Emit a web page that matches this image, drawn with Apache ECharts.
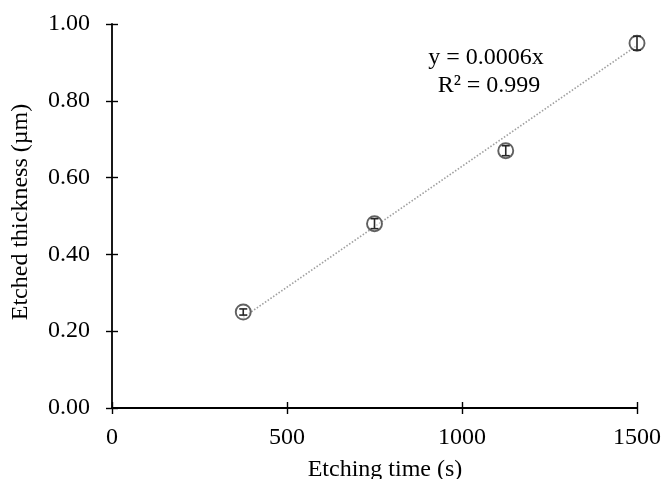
<!DOCTYPE html>
<html>
<head>
<meta charset="utf-8">
<script src="https://cdn.jsdelivr.net/npm/echarts@6/dist/echarts.min.js"></script>
<style>
html,body{margin:0;padding:0;background:#fff;}
#chart{width:664px;height:479px;}
</style>
</head>
<body>
<div id="chart"></div>
<script>
// Data
const etchingTime = [375, 750, 1125, 1500];
const etchedThickness = [0.25, 0.48, 0.67, 0.95];
const thicknessError = [0.008, 0.013, 0.013, 0.018];
const trendX = [375, 1500];
const trendY = [0.236, 0.944];
const xTicks = [0, 500, 1000, 1500];
const yTicks = [0, 0.2, 0.4, 0.6, 0.8, 1.0];
const equationText = 'y = 0.0006x';
const r2Text = 'R² = 0.999';
const xTitle = 'Etching time (s)';
const yTitle = 'Etched thickness (µm)';

const FONT = '"Liberation Serif", "Times New Roman", serif';
const FS = 24;
const points = etchingTime.map((t, i) => [t, etchedThickness[i]]);
const errData = etchingTime.map((t, i) => [t, etchedThickness[i], thicknessError[i]]);
const trendData = trendX.map((x, i) => [x, trendY[i]]);

const chart = echarts.init(document.getElementById('chart'));
const axisLbl = {fontFamily: FONT, fontSize: FS, color: '#000'};
const tickStyle = {color: '#000', width: 1.4};
chart.setOption({
  animation: false,
  grid: {left: 112, right: 23, top: 24, bottom: 71},
  xAxis: [{
    type: 'value', min: xTicks[0], max: xTicks[xTicks.length - 1], interval: 500,
    axisLine: {show: true, lineStyle: {color: '#000', width: 1.8}},
    axisTick: {show: true, length: 6, lineStyle: tickStyle},
    axisLabel: Object.assign({margin: 18, formatter: v => String(v)}, axisLbl),
    splitLine: {show: false}
  }, {
    type: 'value', min: xTicks[0], max: xTicks[xTicks.length - 1], interval: 500, position: 'bottom',
    axisLine: {show: false},
    axisTick: {show: true, inside: true, length: 6, lineStyle: tickStyle},
    axisLabel: {show: false}, splitLine: {show: false}
  }],
  yAxis: [{
    type: 'value', min: yTicks[0], max: yTicks[yTicks.length - 1], interval: 0.2,
    axisLine: {show: true, lineStyle: {color: '#000', width: 1.8}},
    axisTick: {show: true, length: 6, lineStyle: tickStyle},
    axisLabel: Object.assign({margin: 22, formatter: v => v.toFixed(2)}, axisLbl),
    splitLine: {show: false}
  }, {
    type: 'value', min: yTicks[0], max: yTicks[yTicks.length - 1], interval: 0.2, position: 'left',
    axisLine: {show: false},
    axisTick: {show: true, inside: true, length: 6, lineStyle: tickStyle},
    axisLabel: {show: false}, splitLine: {show: false}
  }],
  graphic: [
    {type: 'text', x: 385, y: 470, style: {text: xTitle, font: FS + 'px ' + FONT, fill: '#000', textAlign: 'center', textVerticalAlign: 'middle'}},
    {type: 'text', x: 21, y: 212, rotation: Math.PI / 2, style: {text: yTitle, font: FS + 'px ' + FONT, fill: '#000', textAlign: 'center', textVerticalAlign: 'middle'}},
    {type: 'text', x: 486, y: 58, style: {text: equationText, font: FS + 'px ' + FONT, fill: '#000', textAlign: 'center', textVerticalAlign: 'middle'}},
    {type: 'text', x: 489, y: 86, style: {text: r2Text, font: FS + 'px ' + FONT, fill: '#000', textAlign: 'center', textVerticalAlign: 'middle'}}
  ],
  series: [{
    type: 'line', data: trendData, symbol: 'none', z: 1,
    lineStyle: {color: '#a0a0a0', width: 1.6, type: [1.5, 1.8]}
  }, {
    type: 'scatter', data: points, symbol: 'circle', symbolSize: 15, z: 2,
    itemStyle: {color: 'rgba(255,255,255,0.6)', borderColor: '#3a3a3a', borderWidth: 1.9}
  }, {
    type: 'custom', data: errData, z: 3,
    renderItem: function (params, api) {
      const x = api.value(0), y = api.value(1), e = api.value(2);
      const top = api.coord([x, y + e]);
      const bot = api.coord([x, y - e]);
      const w = 4;
      const st = {stroke: '#262626', lineWidth: 1.6, fill: 'none'};
      return {type: 'group', children: [
        {type: 'line', shape: {x1: top[0], y1: top[1], x2: bot[0], y2: bot[1]}, style: st},
        {type: 'line', shape: {x1: top[0] - w, y1: top[1], x2: top[0] + w, y2: top[1]}, style: st},
        {type: 'line', shape: {x1: bot[0] - w, y1: bot[1], x2: bot[0] + w, y2: bot[1]}, style: st}
      ]};
    }
  }]
});
</script>
</body>
</html>
